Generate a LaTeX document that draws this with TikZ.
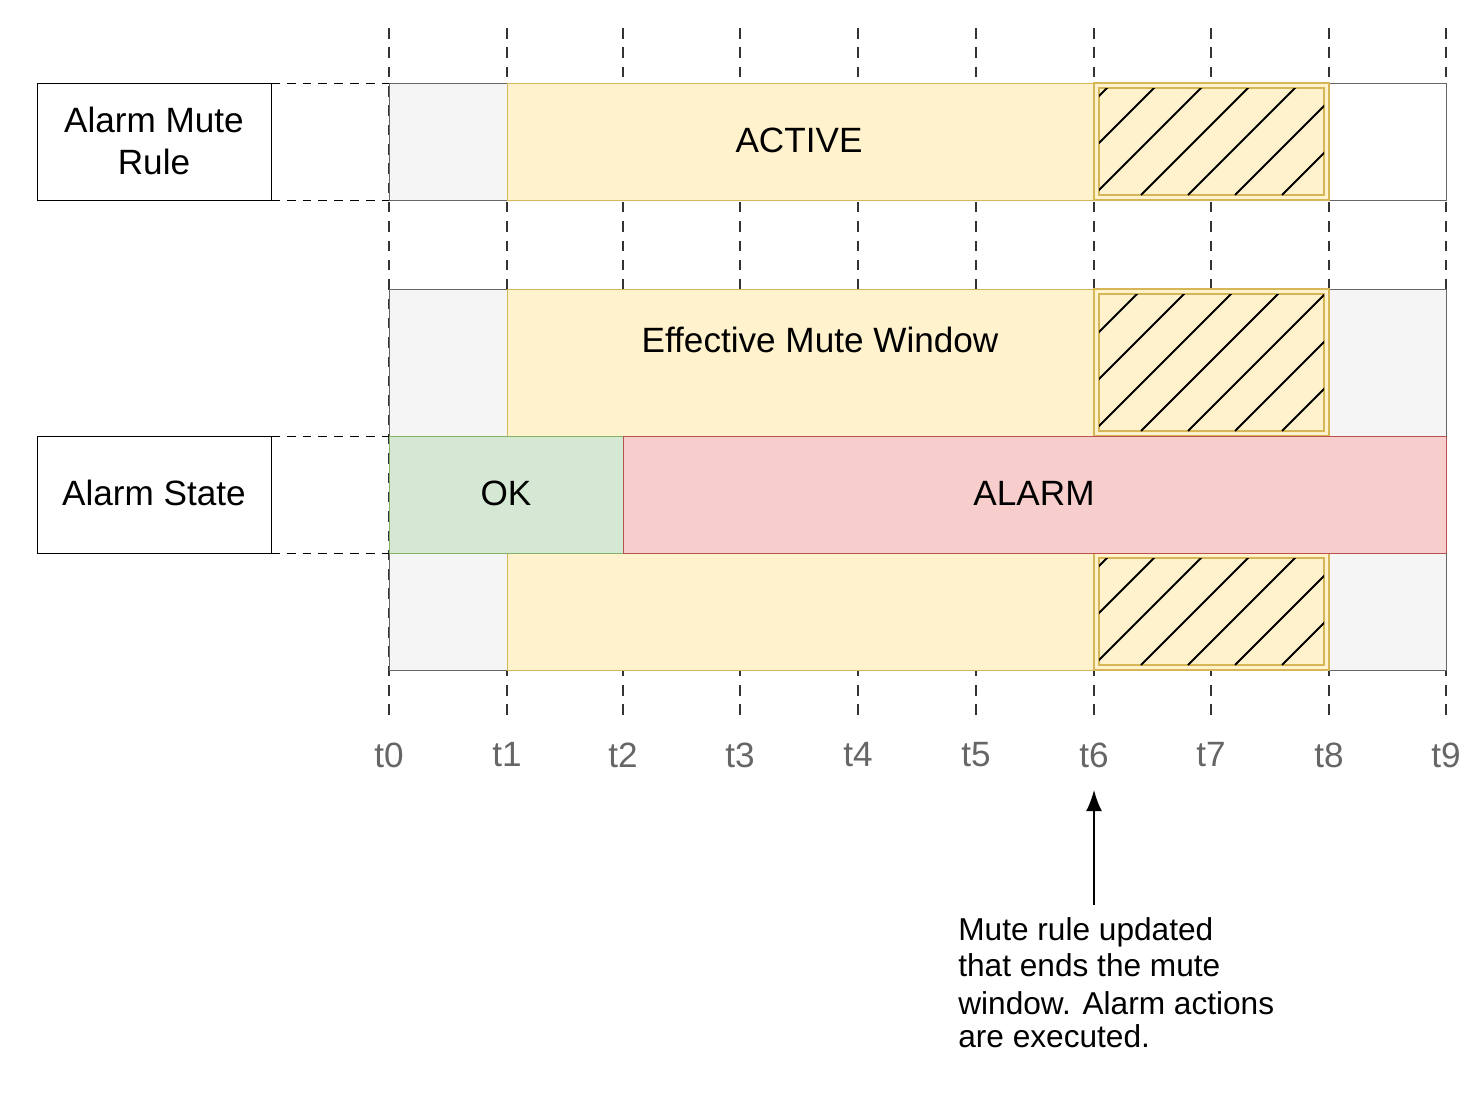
\documentclass[tikz,border=0pt]{standalone}
\usepackage{fontspec}
\setmainfont{Liberation Sans}
\usetikzlibrary{arrows.meta}
\begin{document}
\begin{tikzpicture}[x=0.02cm,y=-0.02cm,
  yel/.style={fill=yfill,draw=yline},
  gry/.style={fill=gfill,draw=gline},
  lbl/.style={font=\fontsize{20}{24}\selectfont},
  vdash/.style={draw=black!80,dashed,dash pattern=on 6pt off 5pt,line width=0.9pt},
  hdash/.style={draw=black,dashed,dash pattern=on 5pt off 4pt},
  tl/.style={font=\fontsize{20}{24}\selectfont,text=black!60}]
\definecolor{yfill}{HTML}{FFF2CC}\definecolor{yline}{HTML}{D6B656}
\definecolor{gfill}{HTML}{F5F5F5}\definecolor{gline}{HTML}{666666}
\definecolor{grfill}{HTML}{D5E8D4}\definecolor{grline}{HTML}{82B366}
\definecolor{rfill}{HTML}{F8CECC}\definecolor{rline}{HTML}{B85450}
\useasboundingbox (0,0) rectangle (1484,1100);
% vertical dashed lines
\foreach \x/\i in {389/0,507/1,623/2,740/3,858/4,976/5,1094/6,1211/7,1329/8,1446/9}{
  \draw[vdash] (\x,28) -- (\x,720);
  \node[tl] (t\i) at (\x,755) {t\i};
}
% top bar
\fill[white] (389,83) rectangle (1446,200);
\draw[gry] (389,83) rectangle (507,200);
\draw[yel] (507,83) rectangle (1329,200);
\draw[gline] (1329,83) -- (1446,83) -- (1446,200) -- (1329,200);
\node[lbl] (active) at (799,140) {ACTIVE};
% middle rect
\draw[gry] (389,289) rectangle (507,670);
\draw[gry] (1329,289) rectangle (1446,670);
\draw[yel] (507,289) rectangle (1329,670);
\node[lbl] (emw) at (820,340) {Effective Mute Window};
% hatches
\foreach \ya/\yb in {83/200,289/436,553/670}{
  \draw[yline,line width=0.8pt] (1094,\ya) rectangle (1329,\yb);
  \draw[yline,line width=0.8pt] (1099,\ya+5) rectangle (1324,\yb-5);
  \begin{scope}
    \clip (1099,\ya+5) rectangle (1324,\yb-5);
    \foreach \k in {-4,...,6}{
      \draw[line width=1.1pt] (1094+47*\k,\yb-5) -- ++(150,-150);
    }
  \end{scope}
}
% alarm state
\draw[fill=grfill,draw=grline] (389,436) rectangle (623,553);
\draw[fill=rfill,draw=rline] (623,436) rectangle (1446,553);
\node[lbl] (ok) at (506,493) {OK};
\node[lbl] (alarm) at (1034,493) {ALARM};
% labels
\draw (37,83) rectangle (271,200);
\node[lbl,align=center] (amrt) at (154,141) {Alarm Mute\\Rule};
\draw (37,436) rectangle (271,553);
\node[lbl] (ast) at (154,493) {Alarm State};
\draw[hdash] (271,83) -- (389,83); \draw[hdash] (271,200) -- (389,200);
\draw[hdash] (271,436) -- (389,436); \draw[hdash] (271,553) -- (389,553);
% annotation
\coordinate (tip) at (1094,790);
\coordinate (tail) at (1094,905);
\node[font=\fontsize{18}{21}\selectfont,align=left,anchor=north west,inner sep=0] (note) at (958,917)
 {Mute rule updated\\[-0.5pt]that ends the mute\\[0.5pt]window. Alarm actions\\[-2pt]are executed.};
\draw[-{Latex[length=12pt,width=9pt]},line width=0.8pt] (tail) -- (tip);
\end{tikzpicture}
\end{document}
